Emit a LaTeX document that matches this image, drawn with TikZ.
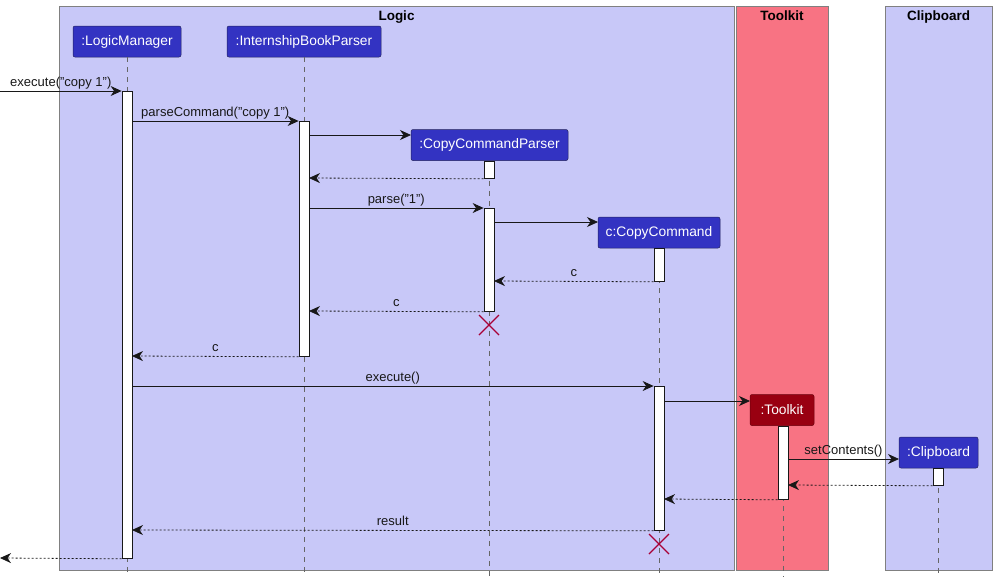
\documentclass[tikz,border=0pt]{standalone}
\usepackage{fontspec}
\setmainfont{Liberation Sans}
\usetikzlibrary{arrows.meta}
\definecolor{boxfill}{RGB}{200,200,248}
\definecolor{boxline}{RGB}{128,128,128}
\definecolor{tkfill}{RGB}{248,115,131}
\definecolor{partblue}{RGB}{51,51,194}
\definecolor{partred}{RGB}{153,0,17}
\definecolor{ink}{RGB}{24,24,24}
\definecolor{xred}{RGB}{168,0,54}
\begin{document}
\begin{tikzpicture}[x=1pt,y=-1pt,
 grp/.style={draw=boxline, line width=0.8pt},
 part/.style={draw=ink!60!partblue, line width=0.5pt, rounded corners=2pt, fill=partblue, text=white,
   font=\fontsize{13.8}{16}\selectfont, minimum height=31pt, inner sep=0pt},
 life/.style={draw=gray!80!black, dash pattern=on 5pt off 5pt, line width=0.6pt},
 act/.style={draw=ink, fill=white, line width=0.8pt, minimum width=10pt, inner sep=0pt, anchor=north},
 msg/.style={draw=ink, line width=0.8pt, -{Stealth[length=11pt,width=10pt,inset=3.5pt]}},
 ret/.style={msg, dash pattern=on 2pt off 2pt},
 lbl/.style={font=\fontsize{13}{15}\selectfont, text=ink, anchor=base, yshift=5pt, inner sep=0pt},
 gtitle/.style={font=\bfseries\fontsize{13.5}{15}\selectfont, anchor=base, inner sep=0pt},
 destroy/.style={draw=xred, line width=1.3pt}
]
\useasboundingbox (0,0) rectangle (997,582);

% group boxes
\draw[grp, fill=boxfill] (59,6) rectangle (734,570);
\draw[grp, fill=tkfill] (736,6) rectangle (828,570);
\draw[grp, fill=boxfill] (885,6) rectangle (992,570);
\node[gtitle] (tLogic) at (396.5,20) {Logic};
\node[gtitle] (tTk) at (782,20) {Toolkit};
\node[gtitle] (tCb) at (938.5,20) {Clipboard};

% participants
\node[part, minimum width=108pt] (LM) at (127,41.5) {:LogicManager};
\node[part, minimum width=154pt] (IBP) at (304,41.5) {:InternshipBookParser};
\node[part, minimum width=157pt] (CCP) at (489.5,145) {:CopyCommandParser};
\node[part, minimum width=122pt] (CC) at (659,232.5) {c:CopyCommand};
\node[part, minimum width=64pt, fill=partred, draw=partred!70!black] (TK) at (782,410) {:Toolkit};
\node[part, minimum width=79pt] (CB) at (938.5,452.5) {:Clipboard};

% lifelines
\coordinate (LMend) at (127,577);
\coordinate (IBPend) at (304,577);
\coordinate (CCPend) at (489,577);
\coordinate (CCend) at (659,577);
\coordinate (TKend) at (783,577);
\coordinate (CBend) at (938,577);
\draw[life] (LM.south) -- (LMend);
\draw[life] (IBP.south) -- (IBPend);
\draw[life] (CCP.south -| CCPend) -- (CCPend);
\draw[life] (CC.south) -- (CCend);
\draw[life] (TK.south -| TKend) -- (TKend);
\draw[life] (CB.south -| CBend) -- (CBend);

% activation bars
\node[act, minimum height=467pt] (aLM) at (127,91) {};
\node[act, minimum height=235pt] (aIBP) at (304,121) {};
\node[act, minimum height=17pt] (aCCP1) at (489,161) {};
\node[act, minimum height=103pt] (aCCP2) at (489,208) {};
\node[act, minimum height=33pt] (aCC1) at (659,248) {};
\node[act, minimum height=144pt] (aCC2) at (659,386) {};
\node[act, minimum height=73pt] (aTK) at (783,426) {};
\node[act, minimum height=17pt] (aCB) at (938,468) {};

% messages
\coordinate (in1) at (0,91);
\draw[msg] (in1) -- node[lbl] (l1) {execute("copy 1")} (aLM.north west);
\coordinate (m2a) at (132,121);
\draw[msg] (m2a) -- node[lbl] (l2) {parseCommand("copy 1")} (aIBP.north west);
\coordinate (m3a) at (309,135);
\coordinate (m3b) at (411,135);
\draw[msg] (m3a) -- (m3b);
\coordinate (m4b) at (309,178);
\draw[ret] (aCCP1.south west) -- (m4b);
\coordinate (m5a) at (309,208);
\draw[msg] (m5a) -- node[lbl] (l5) {parse("1")} (aCCP2.north west);
\coordinate (m6a) at (494,222);
\coordinate (m6b) at (598,222);
\draw[msg] (m6a) -- (m6b);
\coordinate (m7b) at (494,281);
\draw[ret] (aCC1.south west) -- node[lbl] (l7) {c} (m7b);
\coordinate (m8b) at (309,311);
\draw[ret] (aCCP2.south west) -- node[lbl] (l8) {c} (m8b);
\coordinate (m10b) at (132,356);
\draw[ret] (aIBP.south west) -- node[lbl] (l10) {c} (m10b);
\coordinate (m11a) at (132,386);
\draw[msg] (m11a) -- node[lbl] (l11) {execute()} (aCC2.north west);
\coordinate (m12a) at (664,401);
\coordinate (m12b) at (750,401);
\draw[msg] (m12a) -- (m12b);
\coordinate (m13a) at (788,459);
\coordinate (m13b) at (899,459);
\draw[msg] (m13a) -- node[lbl] (l13) {setContents()} (m13b);
\coordinate (m14b) at (788,485);
\draw[ret] (aCB.south west) -- (m14b);
\coordinate (m15b) at (664,499);
\draw[ret] (aTK.south west) -- (m15b);
\coordinate (m16b) at (132,530);
\draw[ret] (aCC2.south west) -- node[lbl] (l16) {result} (m16b);
\coordinate (out18) at (0,558);
\draw[ret] (aLM.south west) -- (out18);

% destroy marks
\coordinate (x1) at (489,325);
\coordinate (x2) at (659,544);
\draw[destroy] ([shift={(-10,-10)}]x1) -- ([shift={(10,10)}]x1)
               ([shift={(-10,10)}]x1) -- ([shift={(10,-10)}]x1);
\draw[destroy] ([shift={(-10,-10)}]x2) -- ([shift={(10,10)}]x2)
               ([shift={(-10,10)}]x2) -- ([shift={(10,-10)}]x2);
\end{tikzpicture}
\end{document}
